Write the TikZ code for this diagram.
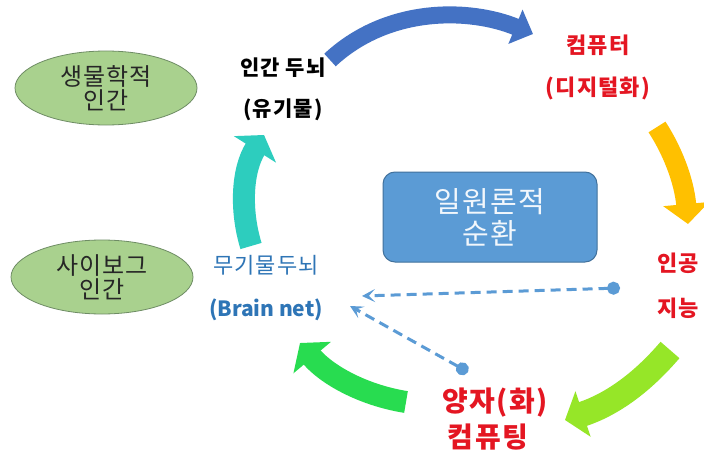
\documentclass[tikz,border=0pt]{standalone}
\usepackage{fontspec}
\newfontfamily\kr{Noto Sans CJK KR}
\newfontfamily\krs[LetterSpace=5]{Noto Sans CJK KR}
\newfontfamily\krw[LetterSpace=5]{Noto Sans CJK KR}
\usetikzlibrary{shapes.geometric,arrows.meta}
\definecolor{arcblue}{HTML}{4472C4}
\definecolor{arcyellow}{HTML}{FFC000}
\definecolor{arclime}{RGB}{150,230,40}
\definecolor{arcgreen}{RGB}{40,220,80}
\definecolor{arcteal}{RGB}{45,205,190}
\definecolor{ellfill}{HTML}{A9D18E}
\definecolor{ellline}{RGB}{110,140,100}
\definecolor{boxfill}{HTML}{5B9BD5}
\definecolor{boxline}{HTML}{41719C}
\definecolor{dashblue}{HTML}{5B9BD5}
\definecolor{redtxt}{RGB}{228,22,34}
\definecolor{bluetxt}{HTML}{2E75B6}
\tikzset{
  ell/.style={ellipse, draw=ellline, line width=0.8pt, fill=ellfill, minimum width=182pt, minimum height=74pt, inner sep=0pt, align=center, font=\krw\fontsize{24}{26}\selectfont, text=black!85},
  lbl/.style={inner sep=0pt, font=\krw\bfseries\fontsize{21}{24}\selectfont},
  redlbl/.style={inner sep=0pt, font=\krs\bfseries\fontsize{22}{24}\selectfont, text=redtxt},
  qlbl/.style={inner sep=0pt, font=\krw\bfseries\fontsize{28}{32}\selectfont, text=redtxt},
  dasharrow/.style={draw=dashblue, line width=3pt, dash pattern=on 10pt off 6pt, {Circle[length=13pt,width=13pt,fill=dashblue]}-{Stealth[length=13pt,width=13pt,inset=6pt]}}
}
\begin{document}
\begin{tikzpicture}[x=1pt,y=-1pt]
\path[use as bounding box, fill=white] (0,0) rectangle (704,452);

% ellipses
\node[ell] (bio) at (106,88) {생물학적\\[-2pt]인간};
\node[ell] (cyb) at (102,277) {사이보그\\[-2pt]인간};

% center box
\node[draw=boxline, line width=1pt, fill=boxfill, rounded corners=12pt, minimum width=214pt, minimum height=90pt, align=center, text=white!92!boxfill, font=\krw\fontsize{29}{32}\selectfont] (mono) at (490,217) {일원론적\\순환};

% labels
\node[lbl, text=black] (brainA) at (283,68) {인간 두뇌};
\node[lbl, text=black] (brainB) at (283,110) {(유기물)};
\node[redlbl] (compA) at (598,45) {컴퓨터};
\node[redlbl] (compB) at (598,88) {(디지털화)};
\node[redlbl] (aiA) at (678,263) {인공};
\node[redlbl] (aiB) at (678,308) {지능};
\node[qlbl] (qA) at (495,403) {양자(화)};
\node[qlbl] (qB) at (488,437) {컴퓨팅};
\node[inner sep=0pt, font=\krw\fontsize{22}{26}\selectfont, text=bluetxt] (inA) at (266,265) {무기물두뇌};
\node[inner sep=0pt, font=\kr\bfseries\fontsize{21}{24}\selectfont, text=bluetxt] (inB) at (266,310) {(Brain net)};

% arrow end coordinates
\coordinate (b0) at (330,60);  \coordinate (b1) at (533,34);
\coordinate (y0) at (657,127); \coordinate (y1) at (688,224);
\coordinate (l0) at (670,350); \coordinate (l1) at (565,420);
\coordinate (g0) at (406,402); \coordinate (g1) at (300,343);
\coordinate (t0) at (251,246); \coordinate (t1) at (264,135);
\coordinate (d1s) at (620,288); \coordinate (d1e) at (362,296);
\coordinate (d2s) at (468,372); \coordinate (d2e) at (350,306);

% big curved arrows
\draw[arcblue, line width=17pt, -{Triangle[length=19pt,width=36pt]}] (b0) .. controls (388,6) and (470,8) .. (b1);
\draw[arcyellow, line width=20pt, -{Triangle[length=20pt,width=45pt]}] (y0) .. controls (672,150) and (684,180) .. (y1);
\draw[arclime, line width=25pt, -{Triangle[length=19pt,width=47pt]}] (l0) .. controls (640,385) and (610,405) .. (l1);
\draw[arcgreen, line width=22pt, -{Triangle[length=19pt,width=48pt]}] (g0) .. controls (362,395) and (326,374) .. (g1);
\draw[arcteal, line width=22pt, -{Triangle[length=17pt,width=49pt]}] (t0) .. controls (240,210) and (242,170) .. (t1);

% dashed arrows
\draw[dasharrow] (d1s) -- (d1e);
\draw[dasharrow] (d2s) -- (d2e);
\end{tikzpicture}
\end{document}
